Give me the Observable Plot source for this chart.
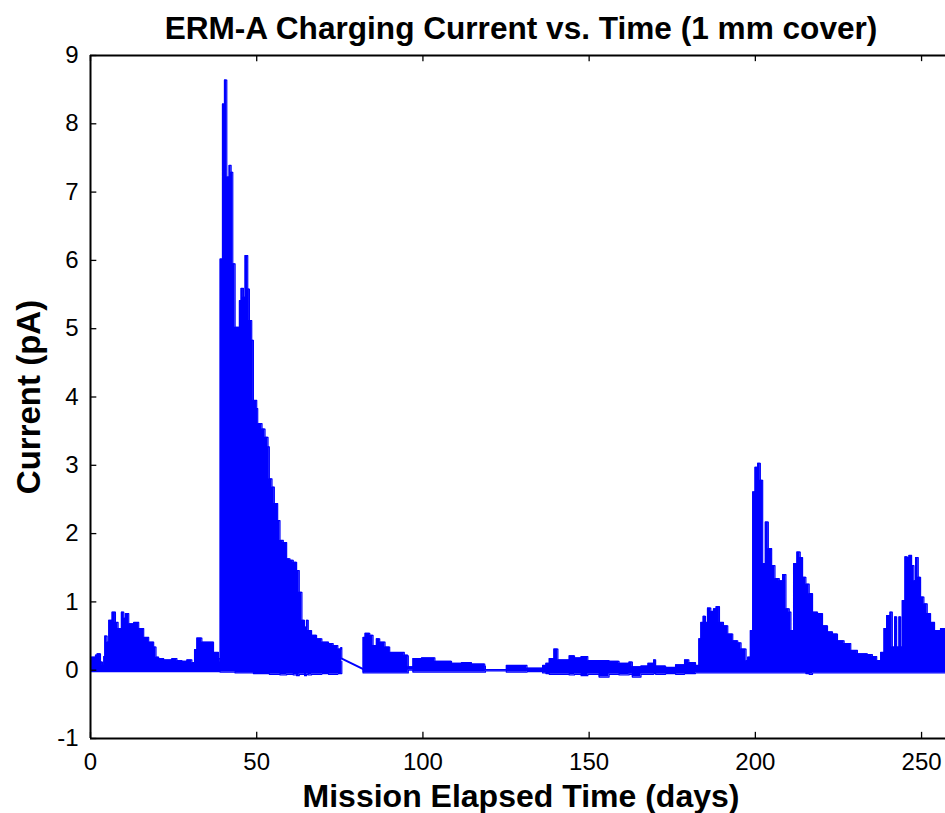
<!DOCTYPE html>
<html>
<head>
<meta charset="utf-8">
<script src="https://cdn.jsdelivr.net/npm/d3@7"></script>
<script src="https://cdn.jsdelivr.net/npm/@observablehq/plot@0.6"></script>
<style>
  html, body { margin: 0; padding: 0; background: #fff; }
  #chart { width: 945px; height: 813px; }
</style>
</head>
<body>
<div id="chart"></div>
<script>
const titleText = "ERM-A Charging Current vs. Time (1 mm cover)";
const xLabel = "Mission Elapsed Time (days)";
const yLabel = "Current (pA)";

const xTicks = [0, 50, 100, 150, 200, 250];
const yTicks = [-1, 0, 1, 2, 3, 4, 5, 6, 7, 8, 9];

// Envelope of the charging current signal (days, upper and lower values in pA)
const days = [
  0, 0.3, 1.5, 2.0, 3.0, 3.6, 4.0, 4.3, 5.0, 5.5, 6.5, 7.5, 8.3, 9.3, 10.0, 10.5, 11.5, 13.0, 14.5, 16.0,
  17.5, 19.0, 19.7, 20.5, 22.0, 24.5, 26.0, 27.5, 29.0, 30.5, 31.3, 32.0, 33.5, 35.3, 37.0, 38.5, 38.9,
  39.0, 39.7, 40.3, 41.0, 41.7, 42.3, 42.8, 43.5, 44.4, 44.8, 45.3, 46.0, 46.5, 47.3, 47.8, 48.5, 49.0,
  50.0, 50.3, 51.6, 52.5, 53.4, 53.8, 54.6, 55.3, 56.3, 57.0, 58.0, 59.0, 60.0, 61.0, 62.0, 62.8, 63.6,
  64.4, 65.0, 65.5, 66.5, 68.0, 69.6, 71.6, 73.0, 74.4, 75.3, 75.6, 81.9,
  82.0, 82.6, 84.0, 85.0, 86.0, 87.0, 88.6, 90.0, 93.0, 94.4, 95.4, 95.6, 96.8, 97.0, 99.6, 103.6, 108.6,
  111.6, 114.6, 118.6, 118.8, 125.0, 125.1, 131.0, 131.3, 135.0, 136.0, 137.0, 138.0, 139.4, 140.6, 144.0,
  145.6, 147.6, 149.6, 153.0, 156.0, 159.0, 162.0, 163.0, 165.6, 167.7, 169.4, 170.0, 173.0, 176.0, 178.7,
  180.0, 182.0, 183.0, 183.6, 184.3, 185.0, 185.6, 186.6, 187.4, 188.2, 189.2, 190.4, 191.7, 193.2, 194.7,
  195.7, 197.2, 197.7, 198.5, 199.2, 199.9, 200.7, 201.5, 202.2, 203.0, 203.9, 204.9, 205.9, 207.2, 208.2,
  209.2, 210.2, 210.7, 211.5, 212.5, 213.5, 214.2, 215.2, 216.2, 217.2, 218.7, 220.2, 221.7, 223.2, 224.7,
  226.7, 228.7, 230.7, 233.7, 235.2, 236.5, 237.2, 237.7, 238.7, 239.5, 240.5, 241.2, 241.9, 242.5, 243.2,
  243.7, 244.2, 245.0, 245.7, 246.2, 247.0, 247.7, 248.2, 249.0, 249.7, 250.7, 251.7, 252.7, 253.9, 255.7, 257.2
];
const upper = [
  0.12, 0.19, 0.22, 0.24, 0.12, 0.07, 0.20, 0.50, 0.41, 0.73, 0.85, 0.70, 0.61, 0.85, 0.76, 0.83, 0.68, 0.70, 0.61, 0.48,
  0.41, 0.34, 0.19, 0.17, 0.15, 0.17, 0.14, 0.13, 0.15, 0.11, 0.30, 0.47, 0.41, 0.41, 0.26, 0.17, 0.12,
  6.02, 8.29, 8.64, 7.22, 7.39, 7.29, 5.95, 5.02, 5.02, 5.41, 5.59, 5.46, 6.07, 5.58, 5.12, 4.83, 3.95,
  3.83, 3.61, 3.53, 3.41, 3.27, 2.80, 2.68, 2.44, 2.19, 1.90, 1.87, 1.63, 1.61, 1.58, 1.46, 1.14, 0.73,
  0.63, 0.73, 0.58, 0.51, 0.46, 0.41, 0.39, 0.36, 0.31, 0.33, 0.17, 0.02,
  0.48, 0.54, 0.51, 0.36, 0.46, 0.41, 0.34, 0.26, 0.26, 0.22, 0.21, 0.05, 0.05, 0.17, 0.18, 0.13, 0.10,
  0.11, 0.09, 0.06, 0.01, 0.01, 0.07, 0.07, 0.03, 0.03, 0.07, 0.10, 0.17, 0.31, 0.15, 0.21,
  0.18, 0.20, 0.14, 0.14, 0.13, 0.10, 0.12, 0.05, 0.06, 0.10, 0.15, 0.06, 0.04, 0.08, 0.15,
  0.11, 0.07, 0.46, 0.70, 0.79, 0.70, 0.91, 0.86, 0.90, 0.93, 0.70, 0.65, 0.53, 0.43, 0.40,
  0.31, 0.14, 0.19, 0.58, 2.61, 2.97, 3.03, 2.78, 1.56, 2.17, 1.78, 1.53, 1.34, 1.31, 1.40,
  0.90, 0.85, 0.58, 1.56, 1.73, 1.65, 1.36, 1.26, 1.12, 0.85, 0.83, 0.65, 0.56, 0.53, 0.43,
  0.39, 0.29, 0.24, 0.23, 0.20, 0.14, 0.14, 0.26, 0.61, 0.80, 0.85, 0.34, 0.78, 0.34, 0.78,
  0.34, 1.02, 1.66, 1.65, 1.68, 1.53, 1.31, 1.65, 1.36, 1.07, 0.97, 0.83, 0.70, 0.58, 0.61, 0.60
];
const lower = [
  -0.02, -0.02, -0.02, -0.02, -0.02, -0.02, -0.02, -0.02, -0.02, -0.02, -0.02, -0.02, -0.02, -0.02, -0.02, -0.02, -0.02, -0.02, -0.02, -0.02,
  -0.02, -0.02, -0.02, -0.02, -0.02, -0.02, -0.02, -0.02, -0.02, -0.02, -0.02, -0.02, -0.02, -0.02, -0.02, -0.02, -0.02,
  -0.03, -0.03, -0.03, -0.03, -0.03, -0.03, -0.03, -0.04, -0.04, -0.04, -0.04, -0.04, -0.04, -0.04, -0.04, -0.04, -0.05,
  -0.05, -0.05, -0.05, -0.05, -0.05, -0.06, -0.06, -0.06, -0.06, -0.07, -0.07, -0.06, -0.06, -0.07, -0.08, -0.06, -0.06,
  -0.08, -0.06, -0.07, -0.06, -0.06, -0.05, -0.06, -0.06, -0.05, -0.05, 0.13, -0.01,
  -0.04, -0.04, -0.04, -0.04, -0.04, -0.04, -0.04, -0.04, -0.04, -0.04, -0.04, 0.00, 0.00, -0.03, -0.03, -0.03, -0.03,
  -0.03, -0.03, -0.03, -0.01, -0.01, -0.03, -0.03, -0.02, -0.02, -0.04, -0.05, -0.06, -0.06, -0.06, -0.07,
  -0.06, -0.08, -0.06, -0.10, -0.06, -0.07, -0.06, -0.10, -0.06, -0.06, -0.05, -0.06, -0.05, -0.06, -0.05,
  -0.05, -0.04, -0.04, -0.04, -0.04, -0.04, -0.04, -0.04, -0.04, -0.04, -0.04, -0.04, -0.04, -0.04, -0.04,
  -0.04, -0.04, -0.04, -0.04, -0.04, -0.04, -0.04, -0.04, -0.04, -0.04, -0.04, -0.04, -0.04, -0.04, -0.04,
  -0.04, -0.04, -0.04, -0.04, -0.04, -0.04, -0.04, -0.05, -0.06, -0.04, -0.04, -0.04, -0.04, -0.04, -0.04,
  -0.04, -0.04, -0.04, -0.04, -0.04, -0.04, -0.04, -0.04, -0.04, -0.04, -0.04, -0.04, -0.04, -0.04, -0.04,
  -0.04, -0.04, -0.04, -0.04, -0.04, -0.04, -0.04, -0.04, -0.04, -0.04, -0.04, -0.04, -0.04, -0.04, -0.04, -0.04
];

// data gap (no samples) between these days: drawn as a straight connecting line
const gapStart = 75.6;
const gapEnd = 81.9;

const data = days.map((d, i) => ({day: d, hi: upper[i], lo: lower[i], seg: d <= gapStart ? "a" : "b"}));
const gapData = data.filter(d => d.day >= gapStart && d.day <= gapEnd);
const blue = "#0000ff";

const chart = Plot.plot({
  width: 945,
  height: 813,
  marginLeft: 90,
  marginRight: 0,
  marginTop: 55,
  marginBottom: 75,
  x: {domain: [0, 257.2], label: null},
  y: {domain: [-1, 9], label: null},
  style: {fontFamily: "'Liberation Sans', Arial, Helvetica, sans-serif", fontSize: "24px", color: "#000", background: "#fff", overflow: "visible"},
  marks: [
    Plot.areaY(data, {x: "day", y1: "lo", y2: "hi", z: "seg", fill: blue, curve: "step-after"}),
    Plot.line(data, {x: "day", y: "hi", z: "seg", stroke: blue, strokeWidth: 1.2, curve: "step-after"}),
    Plot.line(data, {x: "day", y: "lo", z: "seg", stroke: blue, strokeWidth: 1.2, curve: "step-after"}),
    Plot.line(gapData, {x: "day", y: "hi", stroke: blue, strokeWidth: 2}),
    Plot.ruleX([0], {stroke: "#000", strokeWidth: 2}),
    Plot.ruleY([-1, 9], {stroke: "#000", strokeWidth: 2}),
    Plot.ruleY(yTicks, {x1: 0, x2: 1.9, stroke: "#000", strokeWidth: 1.3}),
    Plot.ruleX(xTicks, {y1: -1, y2: -0.91, stroke: "#000", strokeWidth: 1.3}),
    Plot.ruleX(xTicks, {y1: 9, y2: 8.91, stroke: "#000", strokeWidth: 1.3}),
    Plot.axisY({ticks: yTicks, tickSize: 0, tickPadding: 12, tickFormat: d => String(d), fontSize: 24}),
    Plot.axisX({ticks: xTicks, tickSize: 0, tickPadding: 14, tickFormat: d => String(d), fontSize: 24}),
    Plot.text([titleText], {frameAnchor: "top", textAnchor: "middle", lineAnchor: "bottom", dx: 3, dy: -17, fontSize: 31.6, fontWeight: "bold"}),
    Plot.text([xLabel], {frameAnchor: "bottom", textAnchor: "middle", lineAnchor: "bottom", dx: 3, dy: 68, fontSize: 32, fontWeight: "bold"}),
    Plot.text([yLabel], {frameAnchor: "left", textAnchor: "middle", lineAnchor: "bottom", rotate: -90, dx: -51, fontSize: 33, fontWeight: "bold"})
  ]
});
document.getElementById("chart").appendChild(chart);
</script>
</body>
</html>
